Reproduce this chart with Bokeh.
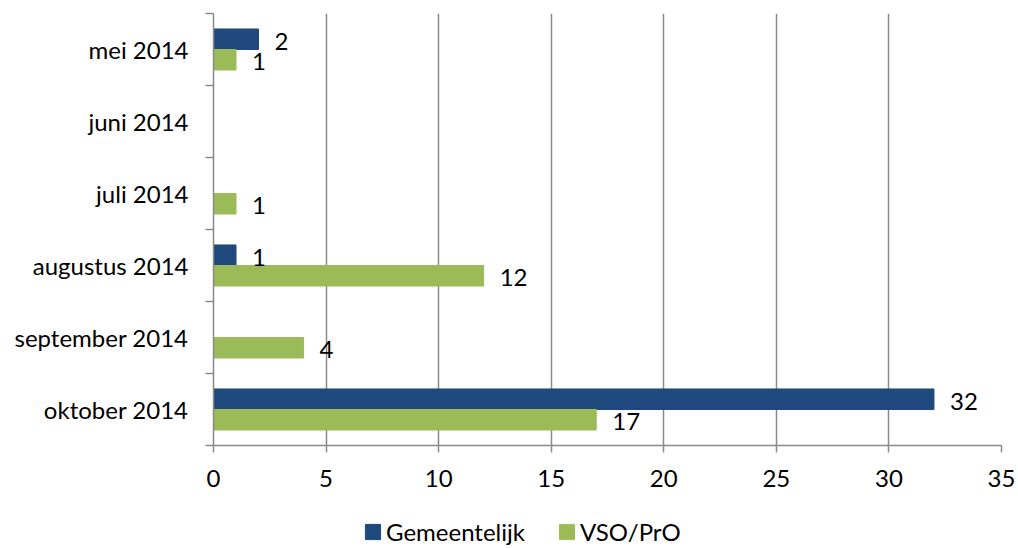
import numpy as np
from bokeh.plotting import figure
from bokeh.layouts import column
from bokeh.models import (ColumnDataSource, Range1d, FixedTicker, Legend, LegendItem)
from bokeh.transform import dodge
from bokeh.core.properties import value
from bokeh.embed import file_html
from bokeh.resources import INLINE

# ---- data ----
months = ["mei 2014", "juni 2014", "juli 2014", "augustus 2014", "september 2014", "oktober 2014"]
gemeentelijk = [2, None, None, 1, None, 32]
vso_pro = [1, None, 1, 12, 4, 17]
x_ticks = [0, 5, 10, 15, 20, 25, 30, 35]
series_names = ["Gemeentelijk", "VSO/PrO"]
series_colors = ["#1F497D", "#9BBB59"]

FONT = "Lato"
FS = "24px"
GREY = "#8A8A8A"

n = len(months)
yc = [n - i - 0.5 for i in range(n)]


def to_arr(vals):
    return np.array([np.nan if v is None else float(v) for v in vals])


src = ColumnDataSource(dict(y=yc, g=to_arr(gemeentelijk), v=to_arr(vso_pro)))

p = figure(frame_width=788, frame_height=432, x_range=Range1d(0, 35), y_range=Range1d(0, n),
           output_backend="svg", toolbar_location=None,
           min_border_left=213, min_border_right=15, min_border_top=13, min_border_bottom=58)
p.outline_line_color = None
p.background_fill_color = "white"

off = 0.1425
hh = 0.285
p.hbar(y=dodge("y", off, range=p.y_range), left=0, right="g", height=hh, source=src,
       fill_color=series_colors[0], line_color=series_colors[0])
p.hbar(y=dodge("y", -off, range=p.y_range), left=0, right="v", height=hh, source=src,
       fill_color=series_colors[1], line_color=series_colors[1])

# value labels
for vals, sign in ((gemeentelijk, 1), (vso_pro, -1)):
    xs, ys, ts = [], [], []
    for i, v in enumerate(vals):
        if v is not None:
            xs.append(v)
            ys.append(yc[i] + sign * off)
            ts.append(str(v))
    ls = ColumnDataSource(dict(x=xs, y=ys, t=ts))
    p.text(x="x", y="y", text="t", source=ls, x_offset=16, y_offset=2,
           text_font=value(FONT), text_font_size=FS, text_color="black",
           text_baseline="middle", text_align="left")

# x axis
p.xaxis.ticker = FixedTicker(ticks=x_ticks, minor_ticks=[])
p.xaxis.axis_line_color = GREY
p.xaxis.axis_line_width = 1.5
p.xaxis.major_tick_line_color = GREY
p.xaxis.major_tick_line_width = 1.5
p.xaxis.major_tick_out = 7
p.xaxis.major_tick_in = 0
p.xaxis.minor_tick_line_color = None
p.xaxis.major_label_text_font = FONT
p.xaxis.major_label_text_font_size = FS
p.xaxis.major_label_text_color = "black"
p.xaxis.major_label_standoff = 17

# y axis: labels at centres, ticks at boundaries
p.yaxis.ticker = FixedTicker(ticks=yc, minor_ticks=list(range(n + 1)))
p.yaxis.major_label_overrides = {c: m for c, m in zip(yc, months)}
p.yaxis.axis_line_color = GREY
p.yaxis.axis_line_width = 1.5
p.yaxis.major_tick_line_color = None
p.yaxis.major_tick_out = 0
p.yaxis.major_tick_in = 0
p.yaxis.minor_tick_line_color = GREY
p.yaxis.minor_tick_line_width = 1.5
p.yaxis.minor_tick_out = 8
p.yaxis.minor_tick_in = 0
p.yaxis.major_label_text_font = FONT
p.yaxis.major_label_text_font_size = FS
p.yaxis.major_label_text_color = "black"
p.yaxis.major_label_standoff = 17

p.xgrid.ticker = FixedTicker(ticks=x_ticks)
p.xgrid.grid_line_color = GREY
p.xgrid.grid_line_width = 1.5
p.ygrid.grid_line_color = None

# legend strip below the chart (same series, drawn outside this strip's view)
lg = figure(width=1016, height=43, x_range=Range1d(0, 35), y_range=Range1d(100, 101),
            output_backend="svg", toolbar_location=None,
            x_axis_location=None, y_axis_location=None, min_border=0)
lg.outline_line_color = None
lg.grid.visible = False
r1 = lg.hbar(y="y", left=0, right="g", height=hh, source=src,
             fill_color=series_colors[0], line_color=series_colors[0])
r2 = lg.hbar(y="y", left=0, right="v", height=hh, source=src,
             fill_color=series_colors[1], line_color=series_colors[1])

legend = Legend(items=[LegendItem(label=series_names[0], renderers=[r1]),
                       LegendItem(label=series_names[1], renderers=[r2])],
                orientation="horizontal", location=(150, 0),
                border_line_color=None, background_fill_alpha=0,
                glyph_width=19, glyph_height=19, label_standoff=4, spacing=32,
                padding=0, margin=0,
                label_text_font=FONT, label_text_font_size=FS, label_text_color="black")
lg.add_layout(legend, "center")

layout = column(p, lg, spacing=0)
open("out.html", "w").write(file_html(layout, INLINE))
